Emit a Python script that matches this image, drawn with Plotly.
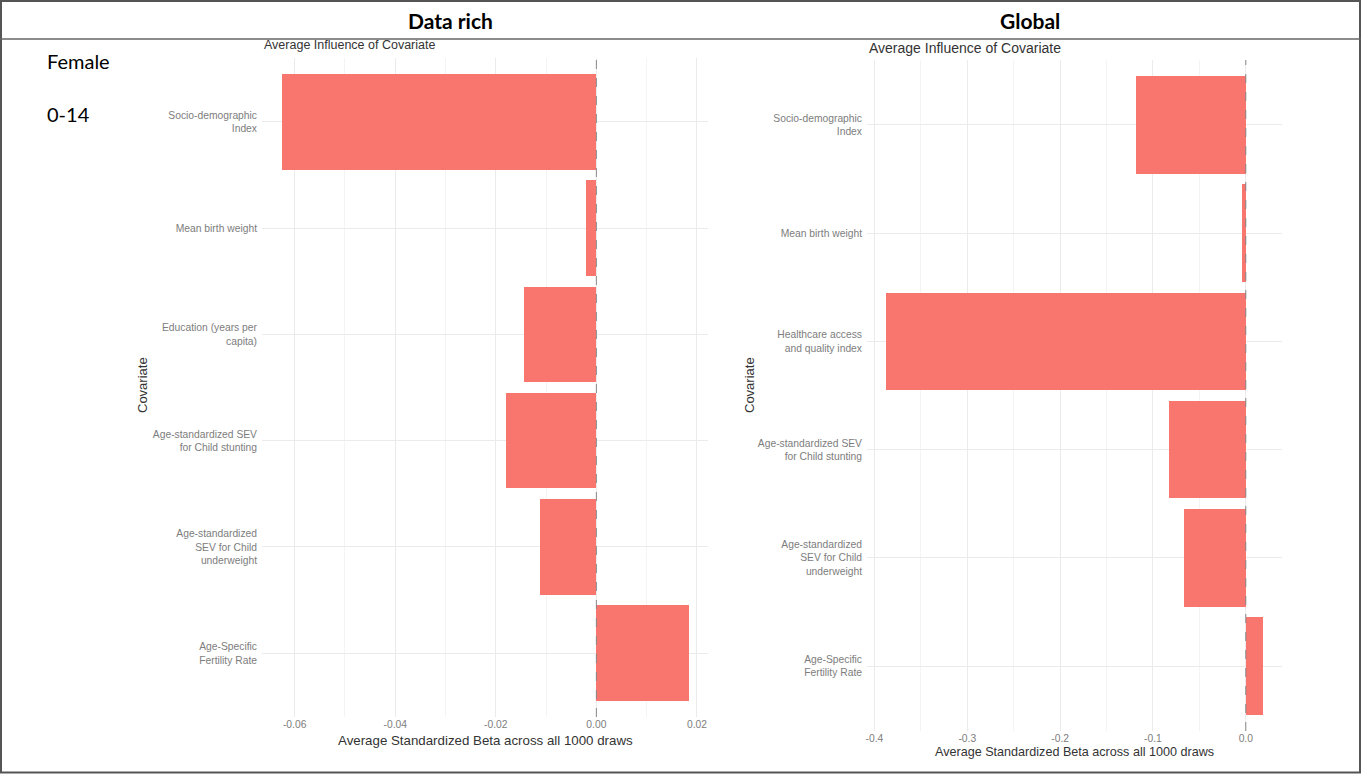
import plotly.graph_objects as go

W, H = 1361, 774

# ---------------- data ----------------
categories_rich = [
    "Socio-demographic<br>Index",
    "Mean birth weight",
    "Education (years per<br>capita)",
    "Age-standardized SEV<br>for Child stunting",
    "Age-standardized<br>SEV for Child<br>underweight",
    "Age-Specific<br>Fertility Rate",
]
values_rich = [-0.0626, -0.0021, -0.0143, -0.0180, -0.0113, 0.0184]
ticks_rich = [-0.06, -0.04, -0.02, 0.00, 0.02]
ticklabels_rich = ["-0.06", "-0.04", "-0.02", "0.00", "0.02"]

categories_global = [
    "Socio-demographic<br>Index",
    "Mean birth weight",
    "Healthcare access<br>and quality index",
    "Age-standardized SEV<br>for Child stunting",
    "Age-standardized<br>SEV for Child<br>underweight",
    "Age-Specific<br>Fertility Rate",
]
values_global = [-0.118, -0.004, -0.388, -0.083, -0.067, 0.019]
ticks_global = [-0.4, -0.3, -0.2, -0.1, 0.0]
ticklabels_global = ["-0.4", "-0.3", "-0.2", "-0.1", "0.0"]

column_headers = ["Data rich", "Global"]
row_labels = ["Female", "0-14"]
panel_title = "Average Influence of Covariate"
x_title = "Average Standardized Beta across all 1000 draws"
y_title = "Covariate"

# ---------------- helpers ----------------
def px(x):
    return x / W

def py(y):
    return 1 - y / H

BAR = "#F8766D"
GRID = "#ebebeb"
FAM = "Liberation Sans, Arial, sans-serif"
TICK_FONT = dict(family=FAM, size=10.3, color="#7d7d7d")

def tfont(size):
    return dict(family=FAM, size=size, color="#333333")

fig = go.Figure()

fig.add_trace(go.Bar(
    x=values_rich, y=categories_rich, orientation="h",
    marker=dict(color=BAR, line=dict(width=0)), width=0.9,
    xaxis="x", yaxis="y", showlegend=False, hoverinfo="x+y",
))
fig.add_trace(go.Bar(
    x=values_global, y=categories_global, orientation="h",
    marker=dict(color=BAR, line=dict(width=0)), width=0.9,
    xaxis="x2", yaxis="y2", showlegend=False, hoverinfo="x+y",
))

# panel geometry (pixels)
L1, R1, T1, B1 = 262, 708, 58, 717
L2, R2, T2, B2 = 867, 1282, 60, 731

common_x = dict(
    showgrid=True, gridcolor=GRID, gridwidth=1, zeroline=False,
    showline=False, ticks="", tickfont=TICK_FONT,
)
common_y = dict(
    type="category", showgrid=True, gridcolor=GRID, gridwidth=1,
    zeroline=False, showline=False, ticks="", tickfont=TICK_FONT,
    ticklabelstandoff=4,
)

fig.update_layout(
    width=W, height=H,
    margin=dict(l=0, r=0, t=0, b=0),
    paper_bgcolor="white", plot_bgcolor="white",
    bargap=0,
    xaxis=dict(domain=[px(L1), px(R1)], anchor="y", range=[-0.0665, 0.0222],
               tickmode="array", tickvals=ticks_rich, ticktext=ticklabels_rich,
               minor=dict(dtick=0.01, tick0=0, showgrid=True, gridcolor="#f4f4f4"),
               **common_x),
    yaxis=dict(domain=[py(B1), py(T1)], anchor="x", range=[5.6, -0.6],
               categoryorder="array", categoryarray=categories_rich, **common_y),
    xaxis2=dict(domain=[px(L2), px(R2)], anchor="y2", range=[-0.408, 0.039],
                tickmode="array", tickvals=ticks_global, ticktext=ticklabels_global,
                minor=dict(dtick=0.05, tick0=0, showgrid=True, gridcolor="#f4f4f4"),
                **common_x),
    yaxis2=dict(domain=[py(B2), py(T2)], anchor="x2", range=[5.6, -0.6],
                categoryorder="array", categoryarray=categories_global, **common_y),
)

# dashed zero reference lines
for xr, yr in (("x", "y domain"), ("x2", "y2 domain")):
    fig.add_shape(type="line", xref=xr, yref=yr, x0=0, x1=0, y0=0, y1=1,
                  line=dict(color="#888888", width=1, dash="dash"), layer="above")

# table borders
fig.add_shape(type="rect", xref="paper", yref="paper", x0=px(1), x1=px(1360), y0=py(772.5), y1=py(1),
              line=dict(color="#555555", width=2))
fig.add_shape(type="line", xref="paper", yref="paper", x0=0, x1=1, y0=py(39), y1=py(39),
              line=dict(color="#666666", width=1.5))

ann = []
# headers
HEAD_FONT = dict(family="Lato, Carlito, Calibri, sans-serif", size=21, color="#000000")
ann.append(dict(text="<b>%s</b>" % column_headers[0], x=px(450), y=py(20), xref="paper", yref="paper",
                showarrow=False, font=HEAD_FONT, xanchor="center", yanchor="middle"))
ann.append(dict(text="<b>%s</b>" % column_headers[1], x=px(1030), y=py(20), xref="paper", yref="paper",
                showarrow=False, font=HEAD_FONT, xanchor="center", yanchor="middle"))
ROW_FONT = dict(family="Lato, Carlito, Calibri, sans-serif", size=20, color="#000000")
ann.append(dict(text=row_labels[0], x=px(45), y=py(61), xref="paper", yref="paper",
                showarrow=False, font=ROW_FONT, xanchor="left", yanchor="middle"))
ann.append(dict(text=row_labels[1], x=px(45), y=py(114), xref="paper", yref="paper",
                showarrow=False, font=ROW_FONT, xanchor="left", yanchor="middle"))

# panel titles
ann.append(dict(text=panel_title, x=px(L1), y=py(45), xref="paper", yref="paper",
                showarrow=False, font=tfont(12.5), xanchor="left", yanchor="middle"))
ann.append(dict(text=panel_title, x=px(L2), y=py(48), xref="paper", yref="paper",
                showarrow=False, font=tfont(14), xanchor="left", yanchor="middle"))
# x titles
ann.append(dict(text=x_title, x=px((L1 + R1) / 2), y=py(740), xref="paper", yref="paper",
                showarrow=False, font=tfont(13.3), xanchor="center", yanchor="middle"))
ann.append(dict(text=x_title, x=px((L2 + R2) / 2), y=py(752), xref="paper", yref="paper",
                showarrow=False, font=tfont(12.6), xanchor="center", yanchor="middle"))
# y titles
ann.append(dict(text=y_title, x=px(143), y=py(385), xref="paper", yref="paper", textangle=-90,
                showarrow=False, font=tfont(13), xanchor="center", yanchor="middle"))
ann.append(dict(text=y_title, x=px(750), y=py(385), xref="paper", yref="paper", textangle=-90,
                showarrow=False, font=tfont(13), xanchor="center", yanchor="middle"))

fig.update_layout(annotations=ann)

fig.write_html("out.html")
